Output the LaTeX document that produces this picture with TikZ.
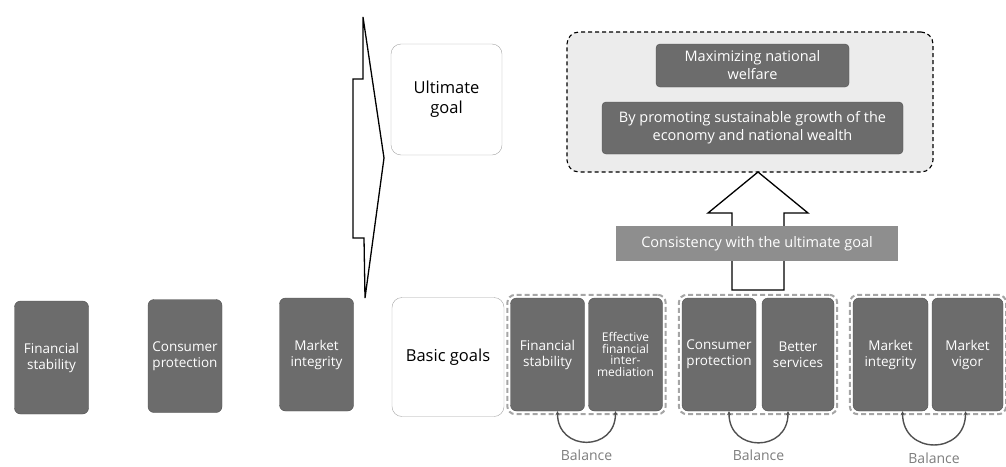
\documentclass[tikz,border=0pt]{standalone}
\usepackage{fontspec}
\setmainfont{Open Sans}
\usetikzlibrary{arrows.meta,fit}

\definecolor{boxgray}{RGB}{108,108,108}
\definecolor{edgegray}{RGB}{80,80,80}
\definecolor{bandgray}{RGB}{142,142,142}
\definecolor{cloudgray}{RGB}{236,236,236}
\definecolor{groupgray}{RGB}{165,165,165}
\definecolor{notegray}{RGB}{125,125,125}

\tikzset{
  goal/.style={draw=edgegray, fill=boxgray, text=white, rounded corners=6pt,
    minimum width=74pt, minimum height=113pt, inner sep=1pt, align=center,
    font=\fontsize{13.5}{16}\selectfont},
  label/.style={draw=black!35, fill=white, rounded corners=10pt, align=center,
    font=\fontsize{16.5}{20}\selectfont},
  top/.style={draw=edgegray, fill=boxgray, text=white, rounded corners=4pt,
    inner sep=1pt, align=center, font=\fontsize{14.5}{18}\selectfont},
  group/.style={draw=groupgray, dashed, dash pattern=on 5pt off 3pt, line width=2pt,
    rounded corners=8pt, inner sep=3pt},
  balance/.style={edgegray, line width=1.4pt, {Stealth[length=4pt,width=4pt]}-{Stealth[length=4pt,width=4pt]},
    out=-90, in=-90, looseness=1.8},
  note/.style={text=notegray, font=\fontsize{14}{16}\selectfont}
}

\begin{document}
\begin{tikzpicture}[x=1pt,y=-1pt]
  \useasboundingbox (0,0) rectangle (1006,466);

  % goals on their own
  \node[goal] (fsa) at (51.5,357.5) {Financial\\stability};
  \node[goal] (cpa) at (185,356) {Consumer\\protection};
  \node[goal] (mia) at (316.5,354.5) {Market\\integrity};

  % the big arrow to the right
  \draw[line width=1.3pt, fill=white] (363,17) -- (384,158) -- (365,298) -- (364,238)
    -- (353,238) -- (353,79) -- (363,79) -- cycle;

  % row labels
  \node[label, minimum width=111pt, minimum height=111pt] (ult) at (446.5,99.5) {Ultimate\\goal};
  \node[label, minimum width=112pt, minimum height=119pt] (basic) at (448,357) {Basic goals};

  % ultimate goal
  \node[draw, dashed, dash pattern=on 4pt off 3pt, line width=1.1pt, fill=cloudgray,
    rounded corners=12pt, minimum width=366pt, minimum height=140pt] (cloud) at (750,102) {};
  \node[top, minimum width=193pt, minimum height=43pt] (welfare) at (752.5,65.5)
    {Maximizing national\\welfare};
  \node[top, minimum width=301pt, minimum height=52pt] (growth) at (752.5,128)
    {By promoting sustainable growth of the\\economy and national wealth};

  % up arrow, then the band over its shaft
  \draw[line width=1.3pt, fill=white] (732,290) -- (732,213) -- (708,213) -- (758,172)
    -- (808,213) -- (784,213) -- (784,290) -- cycle;
  \node[fill=bandgray, text=white, minimum width=282pt, minimum height=35pt,
    font=\fontsize{14.5}{17}\selectfont] (band) at (757,243.5) {Consistency with the ultimate goal};

  % basic goals in pairs
  \node[goal] (fsb) at (547.5,354.5) {Financial\\stability};
  \node[goal, font=\fontsize{12}{11.5}\selectfont] (efi) at (625.5,354.5)
    {Effective\\financial\\inter-\\mediation};
  \node[goal] (cpb) at (719,354.5) {Consumer\\protection};
  \node[goal, minimum width=72pt] (bs) at (798,354.5) {Better\\services};
  \node[goal, minimum width=75pt] (mib) at (890.5,354.5) {Market\\integrity};
  \node[goal, minimum width=71pt] (mv) at (967.5,354.5) {Market\\vigor};

  \node[group, fit=(fsb)(efi)] (pair1) {};
  \node[group, fit=(cpb)(bs)] (pair2) {};
  \node[group, fit=(mib)(mv)] (pair3) {};

  \draw[balance] (fsb.-80) to node[midway, below=4pt, note] (bal1) {Balance} (efi.-100);
  \draw[balance] (cpb.-80) to node[midway, below=4pt, note] (bal2) {Balance} (bs.-100);
  \draw[balance] (mib.-78) to node[midway, below=4pt, note] (bal3) {Balance} (mv.-92);
\end{tikzpicture}
\end{document}
